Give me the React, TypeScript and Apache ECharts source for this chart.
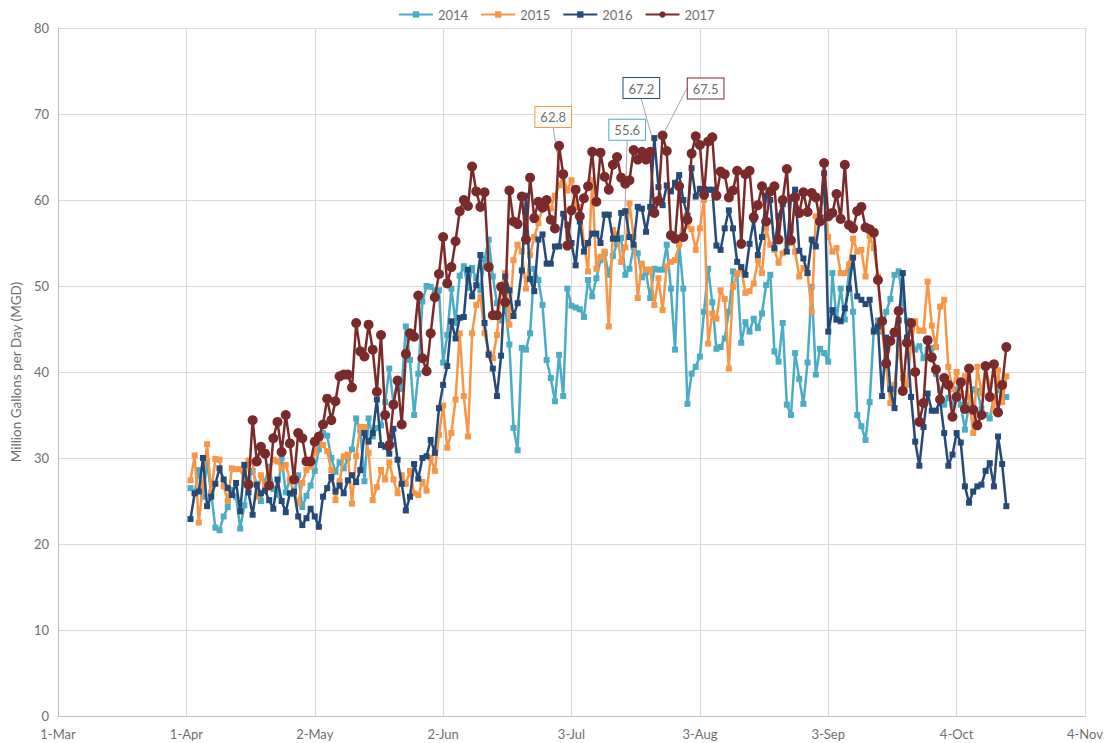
import React, { useEffect, useRef } from "react";
import * as echarts from "echarts";

// x axis: days counted from 1-Mar; Excel-style date ticks every 31 days
const xTickLabels = ["1-Mar", "1-Apr", "2-May", "2-Jun", "3-Jul", "3-Aug", "3-Sep", "4-Oct", "4-Nov"];
const yTickStep = 10;
const seriesNames = ["2014", "2015", "2016", "2017"];
// day (after 1-Mar) of each series' first reading
const startDays = [32, 32, 32, 46];

const values2014 = [
  26.5, 26.0, 28.6, 25.5, 29.5, 25.8, 21.9, 21.6, 23.2, 24.3,
  26.3, 25.5, 21.8, 24.5, 27.5, 28.5, 27.0, 25.0, 27.3, 29.0,
  26.4, 25.7, 30.0, 26.0, 27.5, 25.8, 28.0, 24.3, 25.6, 26.8,
  28.5, 31.0, 32.9, 32.6, 30.0, 28.4, 29.5, 28.8, 30.0, 31.0,
  34.6, 33.2, 27.3, 34.6, 32.5, 33.5, 33.8, 36.5, 40.4, 36.4,
  39.1, 38.0, 45.3, 41.4, 35.0, 39.8, 48.2, 50.0, 49.9, 49.5,
  49.5, 41.1, 44.3, 49.7, 45.7, 51.2, 52.3, 49.8, 52.1, 50.9,
  49.5, 53.1, 55.4, 51.1, 48.0, 46.0, 47.5, 43.2, 33.5, 30.9,
  42.8, 42.6, 44.5, 52.0, 50.7, 47.8, 41.4, 39.3, 36.6, 42.0,
  37.2, 49.7, 47.7, 47.5, 47.3, 46.4, 50.7, 48.8, 50.9, 53.0,
  53.8, 51.3, 53.5, 54.9, 55.6, 51.3, 52.0, 54.5, 53.8, 51.0,
  51.6, 48.6, 52.0, 51.9, 51.9, 54.8, 49.7, 42.6, 54.9, 49.7,
  36.3, 39.8, 40.6, 41.8, 47.0, 52.0, 48.1, 42.7, 42.9, 43.9,
  47.0, 51.7, 51.4, 43.4, 45.8, 44.7, 46.2, 45.1, 46.8, 50.1,
  51.3, 42.4, 41.2, 45.7, 36.2, 35.0, 42.2, 39.2, 36.3, 41.1,
  49.9, 39.7, 42.7, 42.2, 41.2, 51.5, 46.1, 49.7, 46.1, 51.9,
  47.0, 35.0, 33.7, 32.1, 36.5, 44.9, 46.0, 44.7, 47.0, 48.5,
  51.3, 51.7, 48.0, 46.0, 44.5, 42.6, 43.0, 41.6, 42.6, 42.8,
  39.8, 37.9, 36.2, 37.0, 36.2, 38.0, 36.2, 33.3, 36.2, 38.0,
  37.8, 35.7, 35.0, 34.6, 37.0, 38.0, 37.0, 37.1,
];

const values2015 = [
  27.4, 30.3, 22.5, 27.0, 31.6, 26.0, 29.9, 29.8, 26.7, 25.0,
  28.8, 28.7, 28.7, 27.5, 29.7, 29.5, 25.5, 28.0, 26.5, 28.5,
  29.8, 29.6, 28.8, 29.2, 27.5, 26.1, 24.7, 27.1, 28.6, 29.0,
  30.6, 32.1, 31.5, 30.8, 28.6, 25.1, 27.3, 30.2, 30.4, 24.7,
  30.2, 33.6, 33.6, 30.6, 25.1, 26.6, 28.6, 27.5, 29.5, 27.5,
  25.9, 28.0, 27.0, 28.5, 25.9, 25.7, 27.2, 26.2, 30.0, 28.5,
  32.7, 36.1, 31.2, 32.9, 36.8, 44.5, 37.2, 32.5, 44.5, 47.8,
  48.7, 44.5, 42.2, 41.6, 44.3, 49.9, 51.5, 45.5, 53.0, 54.8,
  54.0, 49.7, 53.6, 55.7, 57.3, 59.1, 59.1, 59.0, 60.5, 61.7,
  62.8, 61.1, 62.3, 59.2, 59.2, 55.0, 51.7, 62.3, 52.0, 53.4,
  54.0, 45.3, 56.5, 56.0, 52.8, 54.5, 59.6, 55.7, 48.6, 52.6,
  51.9, 51.9, 47.8, 50.9, 47.2, 52.3, 52.8, 53.0, 54.8, 58.0,
  57.0, 56.6, 54.2, 56.7, 60.0, 43.3, 46.8, 46.2, 49.5, 48.5,
  40.4, 49.9, 51.5, 52.0, 49.2, 49.4, 50.3, 53.0, 51.5, 56.7,
  54.8, 54.2, 52.7, 53.8, 54.8, 56.5, 54.0, 51.1, 52.1, 51.5,
  47.0, 58.1, 58.8, 60.5, 55.7, 54.0, 54.4, 51.5, 51.5, 52.5,
  55.5, 54.0, 54.2, 51.1, 55.8, 54.4, 51.1, 45.0, 40.5, 36.4,
  38.5, 43.0, 39.3, 38.5, 43.0, 45.9, 44.8, 44.8, 50.5, 45.4,
  42.9, 47.6, 48.4, 40.6, 38.0, 40.0, 37.5, 39.5, 37.0, 32.9,
  40.6, 37.5, 40.5, 38.5, 35.5, 40.2, 36.5, 39.5,
];

const values2016 = [
  22.9, 25.9, 26.1, 30.0, 24.4, 25.5, 27.0, 28.8, 27.5, 26.5,
  25.7, 27.1, 23.8, 29.2, 26.0, 23.4, 26.9, 25.9, 26.2, 25.1,
  24.1, 27.5, 25.0, 23.7, 25.9, 26.1, 23.2, 22.2, 23.0, 24.1,
  23.2, 22.0, 25.5, 26.5, 27.8, 26.1, 26.8, 25.9, 27.4, 28.0,
  27.2, 28.6, 32.9, 31.9, 32.9, 36.8, 31.5, 31.3, 30.5, 33.4,
  29.8, 27.0, 23.9, 25.5, 29.3, 27.6, 30.0, 30.2, 32.1, 30.6,
  35.8, 38.5, 40.7, 45.9, 43.9, 46.3, 46.4, 51.9, 48.8, 50.1,
  53.6, 45.7, 42.0, 40.4, 37.2, 41.9, 51.1, 49.5, 46.5, 48.0,
  51.8, 60.5, 50.8, 49.4, 55.4, 56.0, 52.6, 52.6, 54.6, 54.6,
  58.4, 57.1, 55.0, 52.4, 57.5, 54.0, 55.0, 56.1, 56.1, 55.0,
  58.3, 58.3, 55.5, 55.5, 58.5, 58.7, 55.7, 54.8, 59.2, 59.0,
  56.3, 59.2, 67.2, 61.5, 59.4, 61.7, 61.0, 62.0, 62.9, 60.0,
  58.2, 63.7, 60.4, 61.3, 61.3, 61.2, 61.2, 54.7, 54.2, 56.7,
  58.8, 56.7, 52.8, 52.2, 51.3, 54.9, 57.7, 53.6, 55.7, 60.5,
  60.0, 54.4, 58.1, 59.5, 54.0, 60.3, 61.2, 54.1, 53.2, 51.5,
  55.4, 54.6, 58.0, 63.1, 44.7, 47.2, 46.1, 45.9, 47.4, 49.7,
  53.3, 48.8, 48.4, 47.9, 48.4, 44.7, 45.3, 37.2, 44.0, 38.0,
  35.8, 46.0, 51.5, 44.0, 37.1, 31.9, 29.1, 33.6, 37.5, 35.5,
  35.5, 36.7, 32.9, 29.1, 30.4, 32.9, 31.8, 26.7, 24.8, 26.1,
  26.7, 26.9, 28.5, 29.4, 26.7, 32.5, 29.3, 24.4,
];

const values2017 = [
  26.9, 34.4, 29.6, 31.3, 30.5, 26.8, 32.3, 34.2, 30.7, 35.0,
  31.7, 27.5, 32.9, 32.3, 29.6, 29.6, 31.9, 32.5, 33.9, 36.9,
  34.4, 36.6, 39.5, 39.7, 39.7, 38.2, 45.7, 42.4, 41.8, 45.5,
  42.6, 37.7, 44.3, 35.0, 31.5, 36.2, 39.0, 33.9, 42.1, 44.5,
  44.1, 48.9, 41.6, 40.1, 44.5, 48.7, 51.4, 55.7, 50.3, 52.2,
  55.2, 58.7, 60.0, 59.3, 63.9, 61.0, 59.2, 60.9, 52.2, 46.6,
  46.6, 49.9, 48.1, 61.1, 57.5, 57.2, 60.4, 55.4, 62.6, 57.9,
  59.8, 59.1, 60.0, 57.7, 56.7, 66.3, 63.0, 54.7, 58.8, 61.2,
  58.1, 60.2, 61.6, 65.6, 59.8, 65.5, 62.7, 61.2, 64.1, 65.0,
  62.6, 61.9, 62.3, 65.8, 64.7, 65.6, 64.7, 65.6, 58.5, 59.9,
  67.5, 65.7, 55.9, 55.5, 61.6, 55.7, 57.7, 65.4, 67.4, 66.4,
  60.6, 66.8, 67.3, 60.5, 63.3, 63.0, 60.3, 61.1, 63.4, 54.9,
  63.0, 63.4, 58.0, 59.4, 61.6, 57.5, 61.0, 61.6, 55.4, 60.0,
  63.6, 55.3, 60.3, 58.5, 60.9, 58.6, 60.8, 60.3, 57.5, 64.3,
  58.1, 58.5, 60.7, 57.8, 64.1, 57.1, 56.7, 58.7, 59.2, 56.8,
  56.6, 56.2, 50.7, 45.9, 41.0, 43.6, 44.6, 47.1, 37.8, 43.4,
  45.7, 40.0, 34.2, 36.4, 43.7, 41.7, 40.3, 36.8, 39.3, 38.5,
  34.8, 37.1, 38.8, 35.7, 40.4, 35.6, 33.8, 35.0, 40.7, 37.1,
  40.9, 35.3, 38.5, 42.9,
];

const allValues = [values2014, values2015, values2016, values2017];

const FONT = "Lato, 'Open Sans', sans-serif";
const TEXT = "#6f6f6f";
const colors = ["#4BACC6", "#F79646", "#264A78", "#7A2A2A"];
const symbols = ["rect", "rect", "rect", "circle"];
const symbolSizes = [6, 6, 6, 10];
// where each series' max-value callout box sits, relative to its default spot
const calloutShift = [
  { dx: 6, dy: -90 },
  { dx: -10, dy: -41 },
  { dx: -13, dy: -32 },
  { dx: 43, dy: -27 },
];

export default function App() {
  const ref = useRef<HTMLDivElement>(null);

  useEffect(() => {
    if (!ref.current) return;
    const chart = echarts.init(ref.current, null, { renderer: "svg" });

    const series = seriesNames.map((name, k) => {
      const vals = allValues[k];
      let maxI = 0;
      vals.forEach((v, i) => {
        if (v > vals[maxI]) maxI = i;
      });
      const data = vals.map((v, i) => {
        const point = [startDays[k] + i, v];
        if (i !== maxI) return point;
        return {
          value: point,
          label: {
            show: true,
            position: "top",
            formatter: v.toFixed(1),
            color: TEXT,
            fontSize: 13,
            fontFamily: FONT,
            backgroundColor: "#ffffff",
            borderColor: colors[k],
            borderWidth: 1,
            padding: [4, 5, 3, 5],
          },
          labelLine: { show: true, lineStyle: { color: "#a6a6a6", width: 1 } },
        };
      });
      return {
        type: "line",
        name,
        data,
        symbol: symbols[k],
        symbolSize: symbolSizes[k],
        showSymbol: true,
        showAllSymbol: true,
        color: colors[k],
        lineStyle: { width: 2.5, color: colors[k] },
        itemStyle: { color: colors[k], borderWidth: 0 },
        label: { show: false },
        labelLayout: calloutShift[k],
        emphasis: { disabled: true },
        z: 2 + k,
      };
    });

    chart.setOption({
      animation: false,
      backgroundColor: "#ffffff",
      textStyle: { fontFamily: FONT },
      legend: {
        data: seriesNames,
        top: 3,
        left: 393,
        itemWidth: 34,
        itemHeight: 8,
        itemGap: 12,
        textStyle: { color: TEXT, fontSize: 13, fontFamily: FONT },
      },
      grid: { left: 58, right: 32, top: 28, bottom: 27, containLabel: false },
      xAxis: {
        type: "value",
        min: 0,
        max: (xTickLabels.length - 1) * 31,
        interval: 31,
        axisLine: { show: true, lineStyle: { color: "#bfbfbf", width: 1 } },
        axisTick: { show: false },
        axisLabel: {
          color: TEXT,
          fontSize: 13,
          fontFamily: FONT,
          margin: 11,
          formatter: (v: number) => xTickLabels[Math.round(v / 31)] ?? "",
        },
        splitLine: { show: true, lineStyle: { color: "#d9d9d9", width: 1 } },
      },
      yAxis: {
        type: "value",
        min: 0,
        max: 80,
        interval: yTickStep,
        name: "Million Gallons per Day (MGD)",
        nameLocation: "middle",
        nameGap: 31,
        nameTextStyle: { color: TEXT, fontSize: 13.5, fontFamily: FONT },
        axisLine: { show: true, lineStyle: { color: "#bfbfbf", width: 1 } },
        axisTick: { show: false },
        axisLabel: { color: TEXT, fontSize: 13, fontFamily: FONT, margin: 9 },
        splitLine: { show: true, lineStyle: { color: "#d9d9d9", width: 1 } },
      },
      series,
    });

    return () => chart.dispose();
  }, []);

  return (
    <div
      ref={ref}
      style={{ position: "fixed", left: 0, top: 0, width: 1117, height: 743 }}
    />
  );
}
